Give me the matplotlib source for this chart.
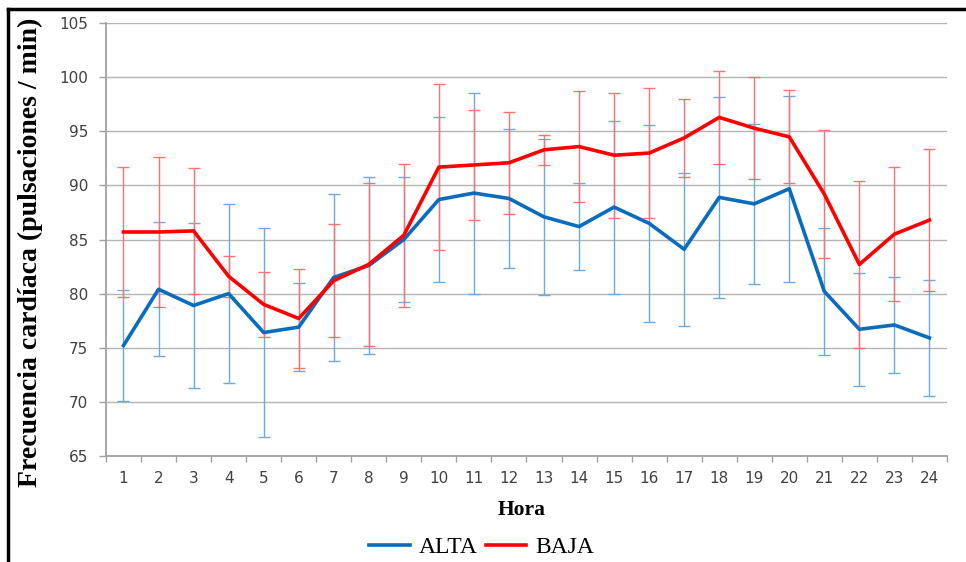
import numpy as np
import matplotlib
matplotlib.use("Agg")
import matplotlib.pyplot as plt
from matplotlib.lines import Line2D

# hours on the x axis
horas = list(range(1, 25))

# mean heart rate, ALTA group, and its error (+/-)
alta = [75.2, 80.4, 78.9, 80.0, 76.4, 76.9, 81.5, 82.6, 85.0, 88.7, 89.3, 88.8,
        87.1, 86.2, 88.0, 86.5, 84.1, 88.9, 88.3, 89.7, 80.2, 76.7, 77.1, 75.9]
alta_err = [5.1, 6.2, 7.6, 8.3, 9.7, 4.1, 7.7, 8.2, 5.8, 7.6, 9.3, 6.4,
            7.2, 4.0, 8.0, 9.1, 7.1, 9.3, 7.4, 8.6, 5.9, 5.2, 4.4, 5.4]

# mean heart rate, BAJA group, and its error (+/-)
baja = [85.7, 85.7, 85.8, 81.6, 79.0, 77.7, 81.2, 82.7, 85.4, 91.7, 91.9, 92.1,
        93.3, 93.6, 92.8, 93.0, 94.4, 96.3, 95.3, 94.5, 89.2, 82.7, 85.5, 86.8]
baja_err = [6.0, 6.9, 5.8, 1.9, 3.0, 4.6, 5.2, 7.5, 6.6, 7.7, 5.1, 4.7,
            1.4, 5.1, 5.8, 6.0, 3.6, 4.3, 4.7, 4.3, 5.9, 7.7, 6.2, 6.6]

y_ticks = [65, 70, 75, 80, 85, 90, 95, 100, 105]

fig = plt.figure(figsize=(9.66, 5.62), dpi=100)
ax = fig.add_axes([0.1097, 0.189, 0.8706, 0.7695])

azul = "#0a6cbf"
rojo = "#ff0000"

# error bars first (thin, lighter), then the thick lines on top
ax.errorbar(horas, alta, yerr=alta_err, fmt="none", ecolor="#6aaae0",
            elinewidth=1.0, capsize=4, capthick=1.0, zorder=2)
ax.errorbar(horas, baja, yerr=baja_err, fmt="none", ecolor="#ff7272",
            elinewidth=1.0, capsize=4, capthick=1.0, zorder=2)
ax.plot(horas, alta, color=azul, lw=2.6, label="ALTA", zorder=3,
        solid_joinstyle="round")
ax.plot(horas, baja, color=rojo, lw=2.6, label="BAJA", zorder=4,
        solid_joinstyle="round")

ax.set_xlim(0.5, 24.5)
ax.set_ylim(65, 105)
ax.set_yticks(y_ticks)
ax.set_xticks(horas)
ax.set_xticks(np.arange(0.5, 25, 1), minor=True)
ax.tick_params(axis="x", which="major", length=0, pad=11)
ax.tick_params(axis="x", which="minor", length=4, color="#a0a0a0", width=1)
ax.tick_params(axis="y", length=5, color="#a0a0a0", width=1, pad=8)
ax.tick_params(labelsize=11, labelcolor="#404040")
for lab in ax.get_xticklabels() + ax.get_yticklabels():
    lab.set_family("DejaVu Sans")

ax.grid(axis="y", color="#b4b4b4", lw=1.0)
ax.set_axisbelow(True)
for s in ["top", "right"]:
    ax.spines[s].set_visible(False)
for s in ["left", "bottom"]:
    ax.spines[s].set_color("#a0a0a0")
    ax.spines[s].set_linewidth(1.3)

fig.text(30 / 966, (562 - 252) / 562, "Frecuencia cardíaca (pulsaciones / min)",
         rotation=90, ha="center", va="center", family="Liberation Serif",
         fontweight="bold", fontsize=20)
fig.text(522 / 966, (562 - 510) / 562, "Hora", ha="center", va="center",
         family="Liberation Serif", fontweight="bold", fontsize=15.5)

fig.legend(loc="center", bbox_to_anchor=(482 / 966, 15 / 562), ncol=2, frameon=False,
           prop={"family": "Liberation Serif", "size": 17}, handlelength=1.7,
           columnspacing=0.35, handletextpad=0.4, borderpad=0.2)

# black frame lines on top and left of the picture
fig.add_artist(Line2D([0.008, 1.0], [0.984, 0.984], color="black", lw=2.5,
                      transform=fig.transFigure))
fig.add_artist(Line2D([0.008, 0.008], [0.0, 0.984], color="black", lw=2.5,
                      transform=fig.transFigure))

fig.savefig("out.png", dpi=100)
